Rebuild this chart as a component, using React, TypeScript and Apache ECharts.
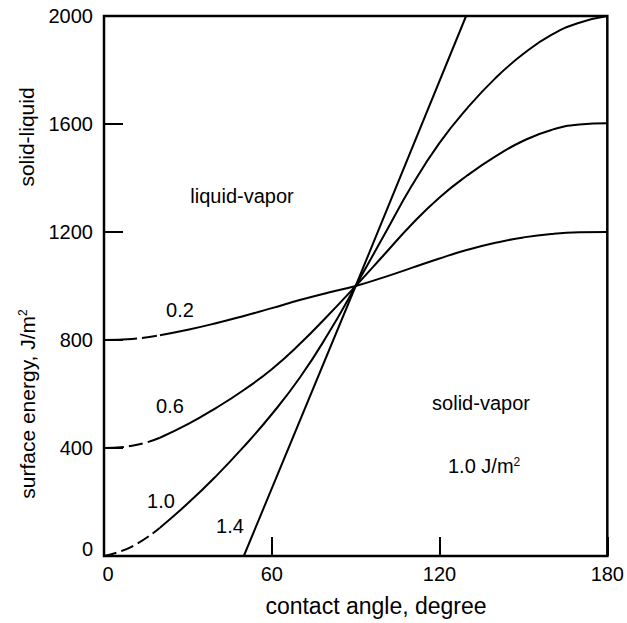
import React, { useEffect, useRef } from "react";
import * as echarts from "echarts";

// Contact angle (degree) at which the solid-liquid energies are sampled
const contactAngles = [0, 10, 20, 30, 40, 50, 60, 70, 80, 90, 100, 110, 120, 130, 140, 150, 160, 170, 180];

// Solid-liquid surface energy for liquid-vapor energies of 0.2, 0.6 and 1.0 J/m^2
const solidLiquid02 = [800, 804, 818, 838, 862, 889, 918, 948, 975, 1000, 1032, 1067, 1102, 1134, 1160, 1180, 1193, 1199, 1200];
const solidLiquid06 = [400, 408, 438, 488, 548, 615, 692, 785, 890, 1000, 1114, 1228, 1328, 1410, 1480, 1538, 1578, 1598, 1603];
const solidLiquid10 = [0, 35, 105, 195, 295, 405, 525, 660, 820, 1000, 1185, 1370, 1530, 1660, 1770, 1860, 1930, 1975, 2000];

// The 1.4 J/m^2 case is a straight line
const line14Angles = [50, 90, 129.5];
const solidLiquid14 = [0, 1000, 2000];

// Index where the dashed (unphysical) low-angle part ends
const DASHED_UNTIL = 2;

const FONT = '"Liberation Sans", Arial, Helvetica, sans-serif';
const INK = "#000";

const pairs = (xs: number[], ys: number[]) => xs.map((x, i) => [x, ys[i]]);

function curve(ys: number[], dash: number[]) {
  const all = pairs(contactAngles, ys);
  const common = {
    type: "line" as const,
    showSymbol: false,
    symbol: "none",
    smooth: 0.5,
    silent: true,
  };
  return [
    {
      ...common,
      data: all.slice(0, DASHED_UNTIL + 1),
      lineStyle: { color: INK, width: 2, type: dash },
    },
    {
      ...common,
      data: all.slice(DASHED_UNTIL),
      lineStyle: { color: INK, width: 2, type: "solid" as const },
    },
  ];
}

function label(text: string, x: number, y: number, fontSize = 20, align = "center") {
  return {
    type: "text",
    x,
    y,
    silent: true,
    style: {
      text,
      fill: INK,
      fontSize,
      fontFamily: FONT,
      align,
      verticalAlign: "middle",
      rich: {
        sup: { fontSize: 12, fontFamily: FONT, fill: INK, verticalAlign: "top" },
      },
    },
  };
}

export default function App() {
  const ref = useRef<HTMLDivElement>(null);

  useEffect(() => {
    if (!ref.current) return;
    const chart = echarts.init(ref.current, null, { renderer: "svg" });
    chart.setOption({
      animation: false,
      backgroundColor: "#fff",
      grid: {
        left: 104,
        right: 15,
        top: 16,
        bottom: 67,
        show: true,
        borderColor: INK,
        borderWidth: 2.5,
      },
      xAxis: {
        type: "value",
        min: 0,
        max: 180,
        interval: 60,
        axisLine: { show: false },
        splitLine: { show: false },
        axisTick: { inside: true, length: 19, lineStyle: { color: INK, width: 2 } },
        axisLabel: {
          color: INK,
          fontSize: 20,
          fontFamily: FONT,
          margin: 8,
          formatter: (v: number) => (v === 0 ? "{zero|0}" : String(v)),
          rich: { zero: { fontSize: 20, fontFamily: FONT, color: INK, padding: [0, 0, 0, 8] } },
        },
      },
      yAxis: {
        type: "value",
        min: 0,
        max: 2000,
        interval: 400,
        axisLine: { show: false },
        splitLine: { show: false },
        axisTick: { inside: true, length: 19, lineStyle: { color: INK, width: 2 } },
        axisLabel: {
          color: INK,
          fontSize: 20,
          fontFamily: FONT,
          margin: 11,
          formatter: (v: number) => (v === 0 ? "{zero|0}" : String(v)),
          rich: { zero: { fontSize: 20, fontFamily: FONT, color: INK, padding: [0, 0, 14, 0] } },
        },
      },
      series: [
        ...curve(solidLiquid02, [33, 5, 15, 5]),
        ...curve(solidLiquid06, [20, 5, 14, 5, 13, 4]),
        ...curve(solidLiquid10, [13, 5]),
        {
          type: "line",
          showSymbol: false,
          symbol: "none",
          silent: true,
          data: pairs(line14Angles, solidLiquid14),
          lineStyle: { color: INK, width: 2 },
        },
      ],
      graphic: [
        label("0.2", 180, 310),
        label("0.6", 170, 406),
        label("1.0", 161, 501),
        label("1.4", 230, 526),
        label("liquid-vapor", 242, 196),
        label("solid-vapor", 481, 403),
        label("1.0 J/m{sup|2}", 448, 466, 20, "left"),
        label("contact angle, degree", 376, 606, 23),
        { ...label("solid-liquid", 26, 137, 21), rotation: Math.PI / 2 },
        { ...label("surface energy, J/m{sup|2}", 27, 404, 21), rotation: Math.PI / 2 },
      ],
    });
    return () => chart.dispose();
  }, []);

  return (
    <div
      ref={ref}
      style={{ position: "fixed", left: 0, top: 0, width: 627, height: 623 }}
    />
  );
}
